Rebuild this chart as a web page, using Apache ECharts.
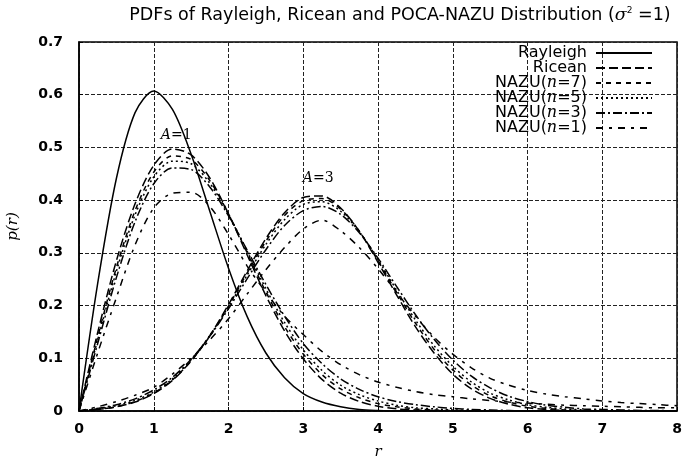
<!DOCTYPE html>
<html><head><meta charset="utf-8">
<script src="https://cdn.jsdelivr.net/npm/echarts@6/dist/echarts.min.js"></script>
<style>html,body{margin:0;padding:0;background:#fff}#c{width:683px;height:471px}</style>
</head><body><div id="c"></div>
<script>
// r values 0..8 step 0.25
const rValues = [0,0.25,0.5,0.75,1,1.25,1.5,1.75,2,2.25,2.5,2.75,3,3.25,3.5,3.75,4,4.25,4.5,4.75,5,5.25,5.5,5.75,6,6.25,6.5,6.75,7,7.25,7.5,7.75,8];
const xTicks = [0,1,2,3,4,5,6,7,8];
const yTicks = [0,0.1,0.2,0.3,0.4,0.5,0.6,0.7];

const rayleigh = [0,0.242,0.441,0.566,0.607,0.572,0.487,0.379,0.271,0.179,0.110,0.063,0.033,0.017,0.008,0.003,0.001,0,0,0,0,0,0,0,0,0,0,0,0,0,0,0,0];

const riceanA1 = [0,0.149,0.285,0.393,0.466,0.497,0.486,0.442,0.374,0.296,0.219,0.152,0.099,0.060,0.034,0.018,0.009,0.004,0.002,0.001,0,0,0,0,0,0,0,0,0,0,0,0,0];
const riceanA3 = [0,0.003,0.008,0.017,0.033,0.058,0.095,0.143,0.202,0.266,0.327,0.376,0.405,0.408,0.385,0.341,0.282,0.220,0.160,0.110,0.070,0.042,0.024,0.013,0.006,0.003,0.001,0,0,0,0,0,0];

const nazu7A1 = [0,0.140,0.272,0.380,0.453,0.484,0.477,0.437,0.374,0.300,0.226,0.160,0.108,0.069,0.042,0.025,0.014,0.008,0.004,0.002,0.001,0,0,0,0,0,0,0,0,0,0,0,0];
const nazu5A1 = [0,0.135,0.265,0.372,0.444,0.474,0.469,0.432,0.373,0.303,0.232,0.168,0.116,0.077,0.049,0.031,0.019,0.011,0.006,0.004,0.002,0.001,0,0,0,0,0,0,0,0,0,0,0];
const nazu3A1 = [0,0.128,0.253,0.359,0.431,0.461,0.458,0.425,0.370,0.305,0.240,0.180,0.128,0.090,0.061,0.041,0.027,0.018,0.012,0.008,0.005,0.003,0.002,0.001,0,0,0,0,0,0,0,0,0];
const nazu1A1 = [0,0.110,0.215,0.315,0.385,0.413,0.415,0.388,0.335,0.275,0.225,0.180,0.145,0.113,0.088,0.069,0.055,0.045,0.037,0.031,0.027,0.023,0.020,0.017,0.015,0.013,0.011,0.010,0.009,0.008,0.007,0.006,0.006];

const nazu7A3 = [0,0.003,0.008,0.018,0.034,0.059,0.095,0.142,0.199,0.262,0.322,0.371,0.399,0.403,0.383,0.341,0.285,0.225,0.167,0.117,0.078,0.049,0.029,0.017,0.009,0.005,0.002,0.001,0,0,0,0,0];
const nazu5A3 = [0,0.004,0.010,0.020,0.036,0.061,0.097,0.143,0.198,0.258,0.316,0.363,0.392,0.397,0.379,0.340,0.287,0.229,0.173,0.124,0.085,0.055,0.034,0.021,0.012,0.007,0.004,0.002,0.001,0,0,0,0];
const nazu3A3 = [0,0.005,0.012,0.023,0.040,0.064,0.098,0.142,0.194,0.251,0.306,0.352,0.380,0.388,0.373,0.338,0.290,0.236,0.183,0.136,0.097,0.066,0.044,0.028,0.018,0.011,0.007,0.004,0.003,0.002,0.001,0.001,0];
const nazu1A3 = [0,0.008,0.018,0.030,0.045,0.070,0.100,0.135,0.175,0.222,0.268,0.310,0.345,0.362,0.342,0.310,0.270,0.225,0.180,0.140,0.108,0.082,0.062,0.049,0.039,0.032,0.027,0.023,0.019,0.016,0.014,0.012,0.010];

const labelA1 = [1.30, 0.522];
const labelA3 = [3.20, 0.442];

const styles = {
  'Rayleigh': 'solid',
  'Ricean': [9, 4],
  'NAZU(n=7)': [5, 5],
  'NAZU(n=5)': [2, 3],
  'NAZU(n=3)': [9, 3, 2, 3],
  'NAZU(n=1)': [7, 6, 3, 6]
};

function pairs(arr){ return rValues.map((r,i)=>[r, arr[i]]); }
function mk(name, arr, extra){
  const s = {
    name: name, type: 'line', data: pairs(arr), symbol: 'none', showSymbol: false,
    smooth: 0.3,
    lineStyle: {color: '#000', width: 1.5, type: styles[name]},
    itemStyle: {color: '#000'}, z: 3
  };
  return Object.assign(s, extra || {});
}

const SANS = 'DejaVu Sans';
const SERIF = 'DejaVu Serif';

const chart = echarts.init(document.getElementById('c'));
chart.setOption({
  animation: false,
  backgroundColor: '#fff',
  title: {
    text: 'PDFs of Rayleigh, Ricean and POCA-NAZU Distribution ({s|σ}{sup|2} =1)',
    left: 395, top: 1, textAlign: 'center',
    textStyle: {
      fontFamily: SANS, fontSize: 17.5, fontWeight: 'normal', color: '#000',
      rich: {
        s: {fontFamily: SERIF, fontStyle: 'italic', fontSize: 17.5, color: '#000'},
        sup: {fontFamily: SANS, fontSize: 9, color: '#000', padding: [0, 0, 8, 0]}
      }
    }
  },
  legend: {
    orient: 'vertical', right: 25, top: 40, align: 'right',
    itemWidth: 56, itemHeight: 10, itemGap: -1,
    itemStyle: {opacity: 0},
    data: ['Rayleigh','Ricean','NAZU(n=7)','NAZU(n=5)','NAZU(n=3)','NAZU(n=1)'],
    formatter: function(name){ return name.replace('n=', '{i|n}='); },
    textStyle: {
      fontFamily: SANS, fontSize: 16, lineHeight: 15, color: '#000', padding: [0, 4, 0, 0],
      rich: {i: {fontFamily: SERIF, fontStyle: 'italic', fontSize: 16, lineHeight: 15, color: '#000'}}
    }
  },
  grid: {left: 79, right: 6, top: 42, bottom: 60, containLabel: false, outerBoundsMode: 'none',
    show: true, borderColor: '#000', borderWidth: 1.5, backgroundColor: 'transparent'},
  xAxis: {
    type: 'value', min: 0, max: 8, interval: 1,
    name: 'r', nameLocation: 'middle', nameGap: 34,
    nameTextStyle: {fontFamily: SERIF, fontStyle: 'italic', fontSize: 15, color: '#000'},
    axisLine: {show: true, lineStyle: {color: '#000', width: 1.5}},
    axisTick: {show: true, inside: true, length: 4, lineStyle: {color: '#000'}},
    axisLabel: {fontFamily: SANS, fontWeight: 'bold', fontSize: 14, color: '#000', margin: 11,
      formatter: v => xTicks.includes(v) ? String(v) : ''},
    splitLine: {show: true, lineStyle: {color: '#222', width: 1, type: [4, 2]}}
  },
  yAxis: {
    type: 'value', min: 0, max: 0.7, interval: 0.1,
    name: 'p(r)', nameLocation: 'middle', nameGap: 58, nameRotate: 90,
    nameTextStyle: {fontFamily: SERIF, fontStyle: 'italic', fontSize: 15, color: '#000'},
    axisLine: {show: true, lineStyle: {color: '#000', width: 1.5}},
    axisTick: {show: true, inside: true, length: 4, lineStyle: {color: '#000'}},
    axisLabel: {fontFamily: SANS, fontWeight: 'bold', fontSize: 14, color: '#000', margin: 16,
      formatter: v => { const t = yTicks.find(y => Math.abs(y - v) < 1e-9); return t === undefined ? '' : (t === 0 ? '0' : t.toFixed(1)); }},
    splitLine: {show: true, lineStyle: {color: '#222', width: 1, type: [4, 2]}}
  },
  series: [
    mk('Rayleigh', rayleigh),
    mk('Ricean', riceanA1, {markPoint: {symbol: 'circle', symbolSize: 0, data: [
      {coord: labelA1, label: {show: true, position: 'inside', formatter: '{a|A}=1', fontFamily: SERIF, fontSize: 14, color: '#000', rich: {a: {fontStyle: 'italic', fontFamily: SERIF, fontSize: 14, color: '#000'}}}},
      {coord: labelA3, label: {show: true, position: 'inside', formatter: '{a|A}=3', fontFamily: SERIF, fontSize: 14, color: '#000', rich: {a: {fontStyle: 'italic', fontFamily: SERIF, fontSize: 14, color: '#000'}}}}
    ]}}),
    mk('Ricean', riceanA3),
    mk('NAZU(n=7)', nazu7A1), mk('NAZU(n=7)', nazu7A3),
    mk('NAZU(n=5)', nazu5A1), mk('NAZU(n=5)', nazu5A3),
    mk('NAZU(n=3)', nazu3A1), mk('NAZU(n=3)', nazu3A3),
    mk('NAZU(n=1)', nazu1A1), mk('NAZU(n=1)', nazu1A3)
  ]
});
</script></body></html>
